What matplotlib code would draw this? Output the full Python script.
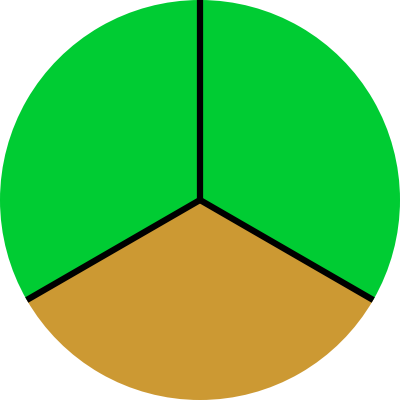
import matplotlib
matplotlib.use("Agg")
import matplotlib.pyplot as plt
import numpy as np

# three equal slices, clockwise from 12 o'clock
values = [1, 1, 1]
colors = ["#00cc33", "#cc9933", "#00cc33"]

fig = plt.figure(figsize=(4, 4), dpi=100)
ax = fig.add_axes([0, 0, 1, 1])
ax.pie(values, colors=colors, startangle=90, counterclock=False, radius=1.0,
       wedgeprops=dict(linewidth=0, antialiased=True))

# black separators from the centre along each slice boundary
angles = 90 - 360 * np.cumsum([0] + values[:-1]) / sum(values)
for a in np.deg2rad(angles):
    ax.plot([0, np.cos(a)], [0, np.sin(a)], color="black", lw=4.5, solid_capstyle="butt")

ax.set_xlim(-1, 1); ax.set_ylim(-1, 1)
ax.set_aspect("equal")
ax.axis("off")
fig.savefig("out.png", dpi=100)
